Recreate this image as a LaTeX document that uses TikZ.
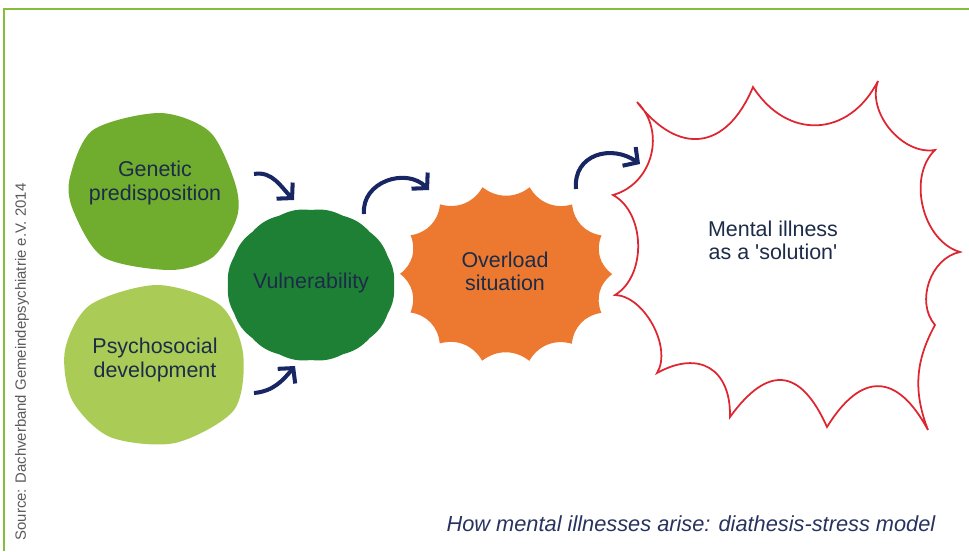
\documentclass[tikz,border=0pt]{standalone}
\usepackage{fontspec}
\setmainfont{Liberation Sans}
\usetikzlibrary{arrows.meta}
\definecolor{framegreen}{RGB}{132,190,60}
\definecolor{genegreen}{RGB}{112,172,45}
\definecolor{psygreen}{RGB}{170,204,86}
\definecolor{vulngreen}{RGB}{30,128,52}
\definecolor{loadorange}{RGB}{237,121,48}
\definecolor{illred}{RGB}{222,38,48}
\definecolor{arrownavy}{RGB}{24,38,100}
\definecolor{textnavy}{RGB}{28,44,72}
\definecolor{captionnavy}{RGB}{40,50,95}
\definecolor{sourcegray}{RGB}{90,90,90}

\begin{document}
\begin{tikzpicture}[x=0.02cm,y=0.02cm,
	blobtext/.style={text=textnavy,align=center,font=\fontsize{12.2}{13.2}\selectfont},
	burstarc/.style={bend right=60,looseness=#1},
	bendarrow/.style={draw=arrownavy,line width=2.3pt,-{Straight Barb[length=6pt,width=13pt]}}]
	\useasboundingbox (0,0) rectangle (969,-551);
	% frame
	\draw[framegreen,line width=1.5pt] (4,-551) -- (4,-9) -- (969,-9);
	% blobs
	\fill[genegreen] plot[smooth cycle] coordinates {(160,-113) (210,-132) (235,-183) (237,-217) (213,-257) (170,-270) (103,-257) (73,-210) (70,-177) (93,-130)};
	\fill[psygreen] plot[smooth cycle] coordinates {(157,-285) (220,-305) (243,-353) (234,-410) (175,-443) (110,-437) (72,-400) (65,-350) (90,-305)};
	\fill[vulngreen,shift={(311,-285)}] (0:83 and 75) \foreach \a in {22.5,45,...,360} {to[bend right=16] (\a:83 and 75)} -- cycle;
	% bursts
	\draw[illred,line width=1pt] (637,-102) to[burstarc=1.5] (753,-87)
		to[burstarc=1.3] (878,-81) to[burstarc=0.95] (935,-150)
		to[burstarc=0.95] (960,-252) to[burstarc=1] (935,-325)
		to[bend right=25] (928,-430) to[burstarc=1.65] (827,-427)
		to[burstarc=1.7] (730,-417) to[burstarc=1.45] (657,-373)
		to[burstarc=0.85] (615,-295) to[burstarc=0.95] (613,-195)
		to[burstarc=1.1] (637,-102) -- cycle;
	\fill[loadorange,shift={(506,-274)}] (0:106 and 89) \foreach \a in {25.7,51.4,...,360} {to[bend left=38] (\a:106 and 89)} -- cycle;
	% texts
	\node[blobtext] (genetic) at (155,-183) {Genetic\\predisposition};
	\node[blobtext] (psycho) at (155,-360) {Psychosocial\\development};
	\node[blobtext] (vuln) at (311,-283) {Vulnerability};
	\node[blobtext] (overload) at (505,-271) {Overload\\situation};
	\node[blobtext] (illness) at (773,-240) {Mental illness\\as a \textquotesingle solution\textquotesingle};
	\node[text=captionnavy,font=\fontsize{12.4}{14}\selectfont\itshape] (caption) at (691,-524) {How mental illnesses arise: diathesis-stress model};
	\node[rotate=90,text=sourcegray,font=\fontsize{8.5}{10}\selectfont] (source) at (22,-362) {Source: Dachverband Gemeindepsychiatrie e.V. 2014};
	% arrows
	\coordinate (g1) at (254,-174);
	\coordinate (g2) at (294,-200);
	\coordinate (p1) at (254,-393);
	\coordinate (p2) at (295,-366);
	\coordinate (v1) at (364,-214);
	\coordinate (v2) at (429,-190);
	\coordinate (o1) at (576,-189);
	\coordinate (o2) at (640,-164);
	\draw[bendarrow] (g1) to[out=10,in=135] (g2);
	\draw[bendarrow] (p1) to[out=5,in=-130] (p2);
	\draw[bendarrow] (v1) to[out=95,in=135,looseness=1.2] (v2);
	\draw[bendarrow] (o1) to[out=95,in=145,looseness=1.3] (o2);
\end{tikzpicture}
\end{document}
